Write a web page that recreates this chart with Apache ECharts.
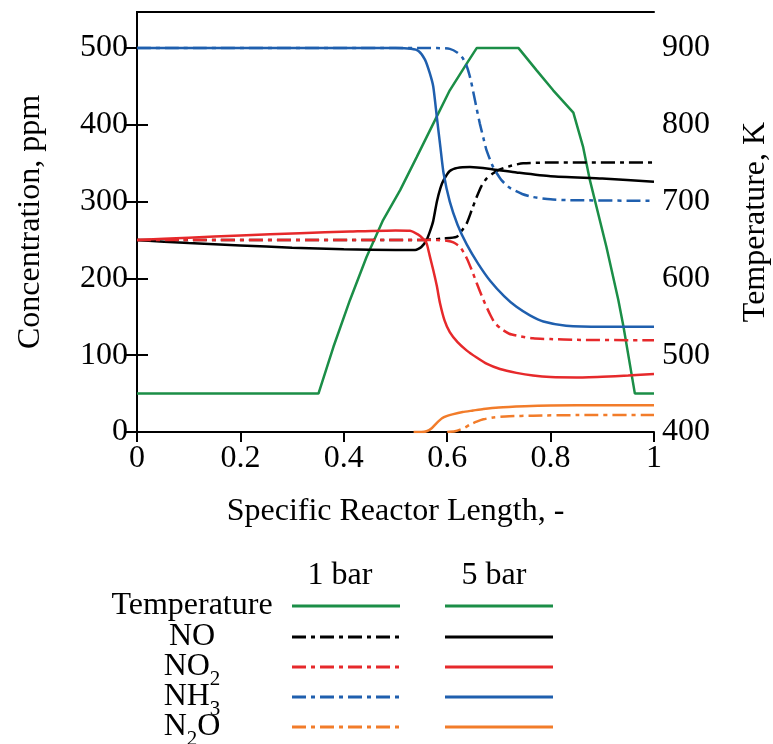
<!DOCTYPE html>
<html>
<head>
<meta charset="utf-8">
<script src="https://cdn.jsdelivr.net/npm/echarts@6/dist/echarts.min.js"></script>
<style>html,body{margin:0;padding:0;background:#fff;overflow:hidden;}#c{width:773px;height:744px;}</style>
</head>
<body>
<div id="c"></div>
<script>
// x: specific reactor length, y: ppm (species) or K (temperature)
const temperature = [[0,450],[0.351,450],[0.380,511],[0.412,572],[0.444,628],[0.476,676],[0.509,715],[0.541,758],[0.580,811],[0.605,845],[0.638,880],[0.657,900],[0.738,900],[0.773,871],[0.805,845],[0.844,816],[0.863,771],[0.876,728],[0.908,641],[0.931,572],[0.941,537],[0.963,450],[1,450]];

const no1bar = [[0,250],[0.55,250],[0.593,252],[0.618,254],[0.628,262],[0.638,272],[0.648,290],[0.657,306],[0.666,320],[0.676,330],[0.689,337],[0.702,342],[0.725,347],[0.747,350],[0.8,351],[1,351]];
const no5bar = [[0,250],[0.1,246],[0.2,243],[0.3,240],[0.4,238],[0.5,237],[0.538,237],[0.55,241],[0.56,250],[0.567,262],[0.573,275],[0.58,300],[0.587,318],[0.593,328],[0.605,340],[0.62,344],[0.644,345],[0.689,342],[0.734,338],[0.8,333],[0.9,330],[1,326]];

const no21bar = [[0,250],[0.58,250],[0.599,249],[0.612,247],[0.625,241],[0.638,226],[0.648,210],[0.657,194],[0.67,172],[0.683,153],[0.692,142],[0.705,134],[0.72,128],[0.738,125],[0.766,122],[0.8,121],[0.85,120],[1,119.5]];
const no25bar = [[0,250],[0.1,253],[0.2,256],[0.315,259],[0.412,261],[0.5,262.5],[0.528,262],[0.544,257],[0.553,252],[0.56,246],[0.566,230],[0.573,211],[0.58,190],[0.586,168],[0.595,145],[0.605,130],[0.62,117],[0.638,106],[0.657,97],[0.676,89],[0.702,82],[0.734,77],[0.766,73.5],[0.8,71.5],[0.85,71],[0.9,72],[0.95,73.5],[1,75.5]];

const nh31bar = [[0,500],[0.58,500],[0.605,499],[0.62,494],[0.63,487],[0.638,476],[0.645,460],[0.651,441],[0.657,421],[0.663,402],[0.67,383],[0.676,367],[0.689,345],[0.705,328],[0.721,318],[0.745,310],[0.766,306],[0.8,303],[0.83,302],[1,301]];
const nh35bar = [[0,500],[0.5,500],[0.53,499],[0.545,496],[0.557,485],[0.566,468],[0.573,450],[0.580,410],[0.587,370],[0.593,337],[0.605,300],[0.62,270],[0.638,244],[0.66,219],[0.683,197],[0.71,177],[0.734,163],[0.76,152],[0.786,144],[0.83,138.5],[0.9,137],[1,137]];

const n2o1bar = [[0.6,0],[0.615,1],[0.625,3],[0.635,6],[0.645,10],[0.657,13.5],[0.67,16.5],[0.689,19],[0.72,20.5],[0.766,21.3],[0.85,22],[1,22]];
const n2o5bar = [[0.535,0],[0.55,0],[0.56,1],[0.57,5],[0.58,12],[0.59,18],[0.6,21],[0.61,23],[0.63,26],[0.65,28],[0.67,30],[0.7,32],[0.75,33.5],[0.8,34.5],[0.9,35],[1,35]];

const xTicks = [0, 0.2, 0.4, 0.6, 0.8, 1];
const ppmTicks = [0, 100, 200, 300, 400, 500];
const kTicks = [400, 500, 600, 700, 800, 900];

const FONT = '"Liberation Serif", "Times New Roman", serif';
const FS = 32;
const C = {green:'#1b8e47', black:'#000000', red:'#e6292b', blue:'#1f5fae', orange:'#f27c2a'};
const DASH = [14,5,4,5];

function s(name, data, color, dashed, yIdx, smooth) {
  return {
    name, type:'line', data, yAxisIndex: yIdx || 0,
    showSymbol:false, symbol:'none', smooth: smooth === undefined ? 0.2 : smooth,
    lineStyle:{color, width:2.5, type: dashed ? DASH : 'solid'},
    z: 3
  };
}

const chart = echarts.init(document.getElementById('c'), null, {renderer:'canvas', width:773, height:744});
const axisText = {color:'#000', fontFamily:FONT, fontSize:FS};

// legend graphics
const legendRows = [
  {parts:[['Temperature',0]], color:C.green, y:606},
  {parts:[['NO',0]], color:C.black, y:637},
  {parts:[['NO',0],['2',1]], color:C.red, y:667},
  {parts:[['NH',0],['3',1]], color:C.blue, y:697},
  {parts:[['N',0],['2',1],['O',0]], color:C.orange, y:727}
];
const SUB = 21;
const graphics = [];
graphics.push({type:'text', x:340, y:576, style:{text:'1 bar', font:FS+'px '+FONT, fill:'#000', textAlign:'center', textVerticalAlign:'middle'}});
graphics.push({type:'text', x:494, y:576, style:{text:'5 bar', font:FS+'px '+FONT, fill:'#000', textAlign:'center', textVerticalAlign:'middle'}});
const measure = (t, size) => echarts.format.getTextRect ? echarts.format.getTextRect(t, size+'px '+FONT).width : t.length*size*0.6;
legendRows.forEach(r => {
  let total = 0;
  const widths = r.parts.map(p => { const w = measure(p[0], p[1] ? SUB : FS); total += w; return w; });
  let x = 192 - total/2;
  r.parts.forEach((p, i) => {
    graphics.push({type:'text', x:x, y: r.y + (p[1] ? 12 : 0), style:{text:p[0], font:(p[1]?SUB:FS)+'px '+FONT, fill:'#000', textAlign:'left', textVerticalAlign:'middle'}});
    x += widths[i];
  });
  graphics.push({type:'line', shape:{x1:292,y1:r.y,x2:400,y2:r.y}, style:{stroke:r.color, lineWidth:3, lineDash: r.color===C.green ? null : DASH}});
  graphics.push({type:'line', shape:{x1:445,y1:r.y,x2:553,y2:r.y}, style:{stroke:r.color, lineWidth:3}});
});

chart.setOption({
  animation:false,
  backgroundColor:'#fff',
  grid:{left:137, top:12, width:517, height:420, containLabel:false, outerBoundsMode:'none'},
  xAxis:[{
    type:'value', min:0, max:1, interval:0.2, position:'bottom',
    name:'Specific Reactor Length, -', nameLocation:'middle', nameGap:64,
    nameTextStyle:axisText,
    axisLine:{show:true, lineStyle:{color:'#000', width:2}},
    axisTick:{show:true, inside:false, length:10, lineStyle:{color:'#000', width:2}, customValues:xTicks},
    axisLabel:Object.assign({margin:11, customValues:xTicks}, axisText),
    splitLine:{show:false}
  },{
    type:'value', min:0, max:1, position:'top',
    axisLine:{show:true, lineStyle:{color:'#000', width:2}},
    axisTick:{show:false}, axisLabel:{show:false}, splitLine:{show:false}
  }],
  yAxis:[{
    type:'value', min:0, max:547, interval:100, position:'left',
    name:'Concentration, ppm', nameLocation:'middle', nameGap:90, nameRotate:90,
    nameTextStyle:axisText,
    axisLine:{show:true, lineStyle:{color:'#000', width:2}},
    axisTick:{show:true, inside:true, length:11, lineStyle:{color:'#000', width:2}, customValues:ppmTicks},
    axisLabel:Object.assign({margin:9, customValues:ppmTicks}, axisText),
    splitLine:{show:false}
  },{
    type:'value', min:400, max:947, interval:100, position:'right',
    name:'Temperature, K', nameLocation:'middle', nameGap:86, nameRotate:90,
    nameTextStyle:axisText,
    axisLine:{show:true, lineStyle:{color:'#000', width:2}},
    axisTick:{show:true, inside:true, length:11, lineStyle:{color:'#000', width:2}, customValues:kTicks},
    axisLabel:Object.assign({margin:8, customValues:kTicks}, axisText),
    splitLine:{show:false}
  }],
  series:[
    s('Temperature', temperature, C.green, false, 1, false),
    s('NO 1 bar', no1bar, C.black, true),
    s('NO 5 bar', no5bar, C.black, false),
    s('NO2 1 bar', no21bar, C.red, true),
    s('NO2 5 bar', no25bar, C.red, false),
    s('NH3 1 bar', nh31bar, C.blue, true),
    s('NH3 5 bar', nh35bar, C.blue, false),
    s('N2O 1 bar', n2o1bar, C.orange, true),
    s('N2O 5 bar', n2o5bar, C.orange, false)
  ],
  graphic:graphics
});
</script>
</body>
</html>
